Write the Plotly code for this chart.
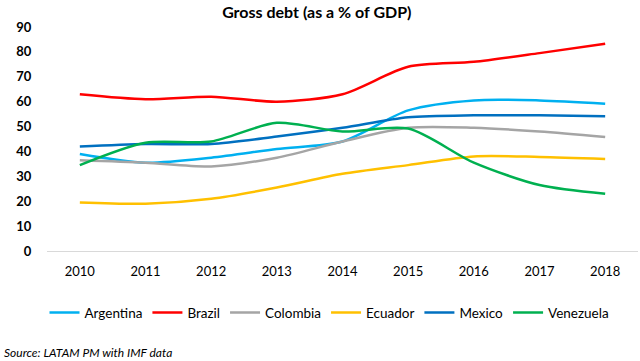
import plotly.graph_objects as go

years = ["2010", "2011", "2012", "2013", "2014", "2015", "2016", "2017", "2018"]
argentina = [39, 35.5, 37.5, 41, 44, 56.5, 60.5, 60.5, 59.2]
brazil = [63, 61, 62, 60, 63, 74, 76, 79.5, 83.3]
colombia = [36.5, 35.5, 34, 37.5, 44, 49.5, 49.5, 48, 45.8]
ecuador = [19.5, 19, 21, 25.5, 31, 34.5, 38, 37.8, 37]
mexico = [42, 43, 43, 46, 49.5, 53.7, 54.5, 54.5, 54.1]
venezuela = [34.5, 43.5, 44, 51.5, 48, 49.2, 35.5, 26.5, 23]

series = [
    ("Argentina", argentina, "#00B0F0"),
    ("Brazil", brazil, "#FF0000"),
    ("Colombia", colombia, "#A5A5A5"),
    ("Ecuador", ecuador, "#FFC000"),
    ("Mexico", mexico, "#0070C0"),
    ("Venezuela", venezuela, "#00B050"),
]

fig = go.Figure()
for name, vals, color in series:
    fig.add_trace(go.Scatter(
        x=years, y=vals, name=name, mode="lines",
        line=dict(color=color, width=2.5, shape="spline", smoothing=0.8),
    ))

font_family = "Lato, 'Open Sans', sans-serif"
fig.update_layout(
    width=640, height=361,
    margin=dict(l=47, r=2, t=27, b=110, autoexpand=False),
    paper_bgcolor="white", plot_bgcolor="white",
    title=dict(text="<b>Gross debt (as a % of GDP)</b>", x=0.495, xanchor="center",
               y=0.965, yanchor="middle",
               font=dict(family=font_family, size=16, color="black")),
    font=dict(family=font_family, color="black"),
    xaxis=dict(type="category", range=[-0.5, 8.5], automargin=False,
               showgrid=False, zeroline=False,
               showline=True, linecolor="#D9D9D9", linewidth=1,
               ticks="outside", ticklen=8, tickcolor="rgba(0,0,0,0)",
               tickfont=dict(size=13, color="black")),
    yaxis=dict(range=[0, 90], dtick=10, automargin=False,
               showgrid=False, zeroline=False,
               showline=False, ticks="outside", ticklen=12,
               tickcolor="rgba(0,0,0,0)",
               tickfont=dict(size=13, color="black", weight="bold")),
    legend=dict(orientation="h", x=0.478, xanchor="center", y=-0.275, yanchor="middle",
                font=dict(size=13.5, color="black"), itemwidth=30,
                traceorder="normal"),
    annotations=[dict(text="<i>Source: LATAM PM with IMF data</i>", xref="paper", yref="paper",
                      x=-45/591, xanchor="left", y=-101/224, yanchor="middle",
                      showarrow=False, font=dict(size=12, color="black"))],
)

fig.write_html("out.html", config={"displayModeBar": False},
               post_script="document.body.style.margin='0';document.body.style.padding='0';")
